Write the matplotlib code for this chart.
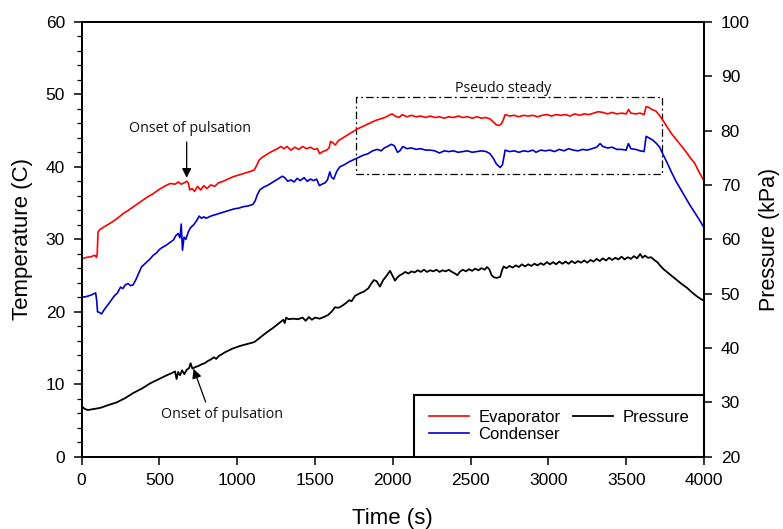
import matplotlib
matplotlib.use("Agg")
import matplotlib.pyplot as plt
from matplotlib.ticker import MultipleLocator
from matplotlib.patches import Rectangle

plt.rcParams['font.family'] = ['Liberation Sans', 'DejaVu Sans']

# Evaporator temperature (C)
evap_t = [0, 30, 60, 85, 95, 100, 105, 115, 150, 190, 230, 270, 300, 340, 380, 420, 460, 500,
          540, 570, 600, 620, 640, 660, 675, 685, 695, 710, 725, 745, 765, 785, 805, 830, 855,
          880, 910, 940, 970, 1000, 1030, 1060, 1090, 1110, 1125, 1140, 1160, 1190, 1220, 1250,
          1280, 1300, 1320, 1345, 1370, 1395, 1420, 1445, 1470, 1495, 1515, 1530, 1550, 1575,
          1590, 1600, 1615, 1630, 1650, 1680, 1710, 1740, 1770, 1800, 1830, 1860, 1890, 1920,
          1950, 1975, 1995, 2015, 2040, 2060, 2090, 2120, 2150, 2180, 2210, 2240, 2270, 2300,
          2330, 2360, 2390, 2420, 2450, 2480, 2510, 2540, 2570, 2600, 2625, 2645, 2665, 2685,
          2700, 2712, 2722, 2750, 2780, 2810, 2840, 2870, 2900, 2930, 2960, 2990, 3020, 3050,
          3080, 3110, 3140, 3170, 3200, 3230, 3260, 3290, 3320, 3350, 3380, 3410, 3440, 3470,
          3500, 3515, 3530, 3560, 3590, 3615, 3628, 3645, 3665, 3690, 3710, 3730, 3760, 3790,
          3820, 3850, 3880, 3910, 3940, 3970, 4000]
evap_T = [27.3, 27.5, 27.6, 27.8, 27.5, 28.0, 31.0, 31.3, 31.8, 32.3, 32.9, 33.6, 34.0, 34.6,
          35.2, 35.8, 36.3, 36.9, 37.4, 37.7, 37.6, 37.9, 37.6, 37.8, 38.0, 37.8, 36.8, 37.0,
          36.6, 37.3, 36.8, 37.4, 37.0, 37.5, 37.3, 37.8, 38.0, 38.3, 38.6, 38.8, 39.0, 39.2,
          39.4, 39.6, 40.2, 40.9, 41.3, 41.7, 42.1, 42.4, 42.8, 42.5, 42.8, 42.3, 42.7, 42.4,
          42.8, 42.5, 42.7, 42.4, 42.5, 41.8, 42.1, 42.3, 42.6, 43.5, 43.3, 43.0, 43.6, 44.0,
          44.4, 44.8, 45.2, 45.5, 45.8, 46.1, 46.4, 46.6, 46.8, 47.1, 47.3, 47.0, 46.8, 47.2,
          46.9, 47.1, 46.9, 47.0, 46.8, 47.0, 46.8, 46.9, 46.7, 46.9, 46.8, 47.0, 46.8, 46.9,
          46.7, 46.9, 46.7, 46.8, 46.6, 46.2, 45.8, 45.7, 46.0, 46.6, 47.2, 47.0, 47.1, 46.9,
          47.1, 47.0, 47.1, 46.9, 47.1, 47.2, 47.0, 47.2, 47.1, 47.2, 47.0, 47.3, 47.1, 47.3,
          47.2, 47.4, 47.6, 47.5, 47.3, 47.5, 47.3, 47.4, 47.3, 47.9, 47.4, 47.3, 47.4, 47.2,
          48.3, 48.2, 47.9, 47.7, 47.2, 46.6, 45.6, 44.6, 43.8, 43.0, 42.2, 41.3, 40.5, 39.2,
          38.1]

# Condenser temperature (C)
cond_t = [0, 30, 60, 90, 97, 102, 115, 128, 145, 170, 190, 210, 230, 250, 265, 280, 298, 315,
          330, 350, 370, 385, 400, 420, 440, 460, 480, 500, 520, 545, 570, 590, 605, 620, 632,
          640, 648, 658, 670, 685, 700, 720, 740, 755, 770, 785, 800, 830, 860, 890, 920, 950,
          980, 1010, 1040, 1070, 1100, 1115, 1130, 1145, 1170, 1200, 1230, 1260, 1290, 1305,
          1325, 1345, 1365, 1385, 1405, 1430, 1450, 1470, 1490, 1510, 1528, 1545, 1565, 1580,
          1595, 1605, 1620, 1640, 1660, 1690, 1720, 1750, 1780, 1810, 1840, 1870, 1900, 1925,
          1945, 1965, 1990, 2010, 2030, 2045, 2065, 2090, 2120, 2150, 2180, 2210, 2240, 2270,
          2300, 2330, 2360, 2390, 2420, 2450, 2480, 2510, 2540, 2570, 2600, 2625, 2645, 2665,
          2690, 2705, 2715, 2722, 2750, 2780, 2810, 2840, 2870, 2900, 2920, 2950, 2980, 3010,
          3040, 3070, 3100, 3130, 3160, 3190, 3220, 3250, 3280, 3310, 3332, 3350, 3380, 3410,
          3440, 3470, 3500, 3514, 3530, 3560, 3590, 3615, 3628, 3645, 3670, 3695, 3715, 3730,
          3760, 3790, 3820, 3850, 3880, 3910, 3940, 3970, 4000]
cond_T = [22.0, 22.1, 22.3, 22.6, 21.5, 20.0, 19.9, 19.7, 20.3, 21.0, 21.6, 22.2, 22.6, 23.4,
          23.2, 23.7, 23.9, 23.6, 23.7, 24.5, 25.5, 26.2, 26.5, 26.9, 27.3, 27.8, 28.1, 28.6,
          28.9, 29.2, 29.6, 29.9, 30.5, 30.8, 30.2, 32.1, 28.5, 30.3, 30.0, 31.0, 31.6, 32.0,
          32.6, 33.2, 32.9, 33.1, 32.9, 33.2, 33.4, 33.6, 33.8, 34.0, 34.2, 34.3, 34.5, 34.6,
          34.8, 35.3, 36.2, 36.8, 37.2, 37.5, 37.9, 38.3, 38.7, 38.5, 38.0, 38.2, 37.9, 38.4,
          38.1, 38.5, 38.0, 38.3, 38.1, 38.3, 37.4, 37.6, 37.8, 38.2, 39.3, 38.6, 38.3, 39.4,
          40.0, 40.3, 40.7, 41.0, 41.3, 41.6, 41.8, 42.2, 42.4, 42.2, 42.6, 42.8, 43.1, 42.9,
          42.0, 42.2, 42.8, 42.5, 42.6, 42.4, 42.5, 42.3, 42.3, 42.2, 41.9, 42.2, 42.1, 42.2,
          42.0, 42.1, 42.2, 42.0, 42.1, 42.2, 42.1, 41.8, 41.2, 40.4, 39.9, 40.3, 41.5, 42.3,
          42.1, 42.2, 42.0, 42.2, 42.1, 42.3, 42.0, 42.3, 42.2, 42.3, 42.1, 42.4, 42.2, 42.5,
          42.3, 42.2, 42.4, 42.3, 42.5, 42.7, 43.2, 42.8, 42.6, 42.7, 42.4, 42.4, 42.3, 43.2,
          42.5, 42.4, 42.2, 42.1, 44.2, 44.0, 43.7, 43.2, 42.7, 42.0, 40.7, 39.3, 38.0, 36.9,
          35.8, 34.7, 33.7, 32.7, 31.6]

# Pressure (kPa)
pres_t = [0, 20, 40, 80, 120, 170, 225, 280, 330, 390, 440, 490, 540, 580, 600, 610, 620, 632,
          645, 660, 675, 690, 700, 712, 730, 750, 770, 790, 810, 830, 850, 865, 880, 920, 970,
          1020, 1070, 1110, 1150, 1190, 1230, 1270, 1296, 1305, 1315, 1330, 1360, 1390, 1420,
          1440, 1460, 1480, 1500, 1530, 1556, 1585, 1610, 1628, 1650, 1671, 1700, 1720, 1735,
          1757, 1790, 1815, 1843, 1860, 1878, 1895, 1917, 1938, 1960, 1982, 2003, 2014, 2030,
          2046, 2060, 2080, 2100, 2120, 2140, 2160, 2180, 2200, 2220, 2240, 2260, 2280, 2300,
          2320, 2340, 2360, 2380, 2400, 2415, 2430, 2450, 2470, 2490, 2510, 2530, 2550, 2570,
          2590, 2605, 2620, 2635, 2650, 2670, 2690, 2702, 2712, 2730, 2750, 2770, 2790, 2810,
          2830, 2850, 2870, 2890, 2910, 2930, 2950, 2970, 2990, 3010, 3030, 3050, 3070, 3090,
          3110, 3130, 3150, 3170, 3190, 3210, 3230, 3250, 3270, 3290, 3310, 3330, 3350, 3370,
          3390, 3410, 3430, 3450, 3470, 3490, 3510, 3530, 3550, 3570, 3590, 3605, 3620, 3640,
          3660, 3680, 3700, 3720, 3740, 3770, 3800, 3830, 3860, 3890, 3920, 3950, 3975, 4000]
pres_P = [29.3, 28.8, 28.6, 28.8, 29.0, 29.5, 30.0, 30.8, 31.7, 32.6, 33.5, 34.2, 34.9, 35.4,
          35.7, 34.3, 35.6, 35.0, 35.9, 35.2, 36.0, 36.3, 37.2, 36.2, 36.5, 36.7, 37.0, 37.2,
          37.6, 37.9, 38.3, 38.0, 38.5, 39.2, 39.9, 40.4, 40.8, 41.1, 42.0, 42.9, 43.7, 44.6,
          45.2, 44.6, 45.6, 45.3, 45.4, 45.3, 45.6, 45.0, 45.7, 45.2, 45.6, 45.4, 45.7, 46.1,
          46.8, 47.5, 47.4, 47.7, 48.3, 48.8, 48.6, 49.6, 50.1, 50.4, 51.0, 51.8, 52.5, 52.3,
          51.3, 52.5, 53.3, 54.2, 53.0, 52.4, 53.0, 53.4, 53.6, 54.0, 53.7, 54.1, 53.9, 54.3,
          54.0, 54.4, 54.0, 54.3, 54.1, 54.4, 54.0, 54.3, 54.1, 54.4, 54.0, 53.7, 53.4, 54.0,
          54.4, 54.1, 54.5, 54.2, 54.6, 54.3, 54.7, 54.4, 54.9, 54.5, 53.4, 53.0, 52.9, 53.1,
          54.3, 55.0, 54.7, 55.1, 54.8, 55.2, 54.9, 55.4, 55.0, 55.4, 55.1, 55.5, 55.2, 55.6,
          55.3, 55.8, 55.4, 55.8, 55.4, 55.9, 55.5, 55.9, 55.5, 56.0, 55.6, 56.0, 55.7, 56.1,
          55.7, 56.2, 55.9, 56.4, 56.0, 56.5, 56.1, 56.6, 56.2, 56.6, 56.3, 56.8, 56.3, 56.7,
          56.4, 56.9, 56.5, 57.3, 56.6, 57.0, 56.6, 56.7, 56.2, 55.8, 55.1, 54.5, 53.8, 53.1,
          52.4, 51.7, 51.1, 50.3, 49.6, 49.1, 48.7]

fig = plt.figure(figsize=(7.83, 5.29), dpi=100)
ax = fig.add_axes([0.1043, 0.1365, 0.7948, 0.8223])
ax2 = ax.twinx()

l1, = ax.plot(evap_t, evap_T, color='#ff0000', lw=1.2, label='Evaporator')
l2, = ax.plot(cond_t, cond_T, color='#0000c8', lw=1.2, label='Condenser')
l3, = ax2.plot(pres_t, pres_P, color='black', lw=1.3, label='Pressure')

ax.set_xlim(0, 4000)
ax.set_ylim(0, 60)
ax2.set_ylim(20, 100)
ax.xaxis.set_major_locator(MultipleLocator(500))
ax.yaxis.set_major_locator(MultipleLocator(10))
ax.yaxis.set_minor_locator(MultipleLocator(2))
ax2.yaxis.set_major_locator(MultipleLocator(10))

for a in (ax, ax2):
    for s in a.spines.values():
        s.set_linewidth(1.3)
ax.tick_params(axis='both', which='major', direction='out', length=6, width=1.1,
               labelsize=12.5, pad=6)
ax.tick_params(axis='y', which='minor', direction='out', length=3.5, width=0.9)
ax2.tick_params(axis='y', which='major', direction='out', length=6, width=1.1,
                labelsize=12.5, pad=6)

ax.set_xlabel('Time (s)', fontsize=16)
ax.set_ylabel('Temperature (C)', fontsize=16)
ax2.set_ylabel('Pressure (kPa)', fontsize=15.5)
ax.xaxis.set_label_coords(0.5, -0.118)
ax.yaxis.set_label_coords(-0.078, 0.5)
ax2.yaxis.set_label_coords(1.089, 0.5)

# annotations
afont = dict(family=['Open Sans', 'DejaVu Sans'], fontsize=10.3, color='#111111')
ax.annotate('', xy=(675, 38.1), xytext=(675, 43.8),
            arrowprops=dict(arrowstyle='-|>', color='black', lw=0.9, mutation_scale=14))
ax.text(696, 45.3, 'Onset of pulsation', ha='center', va='center', **afont)
ax.annotate('', xy=(713, 12.5), xytext=(803, 7.2),
            arrowprops=dict(arrowstyle='-|>', color='black', lw=0.9, mutation_scale=14))
ax.text(900, 5.8, 'Onset of pulsation', ha='center', va='center', **afont)
ax.add_patch(Rectangle((1763, 39.0), 3728 - 1763, 49.6 - 39.0, fill=False,
                       ec='black', lw=0.9, ls=(0, (6, 2.5, 1.5, 2.5))))
ax.text(2710, 50.8, 'Pseudo steady', ha='center', va='center', **afont)

leg = ax2.legend([l1, l2, l3], ['Evaporator', 'Condenser', 'Pressure'], ncol=2,
                 loc='lower right', bbox_to_anchor=(1.0, 0.0), borderaxespad=0,
                 fontsize=12, frameon=True, fancybox=False, framealpha=1,
                 edgecolor='black', handlelength=2.4, handletextpad=0.55,
                 columnspacing=0.75, labelspacing=0.1, borderpad=0.9)
leg.get_frame().set_linewidth(1.5)

fig.savefig('out.png', dpi=100)
